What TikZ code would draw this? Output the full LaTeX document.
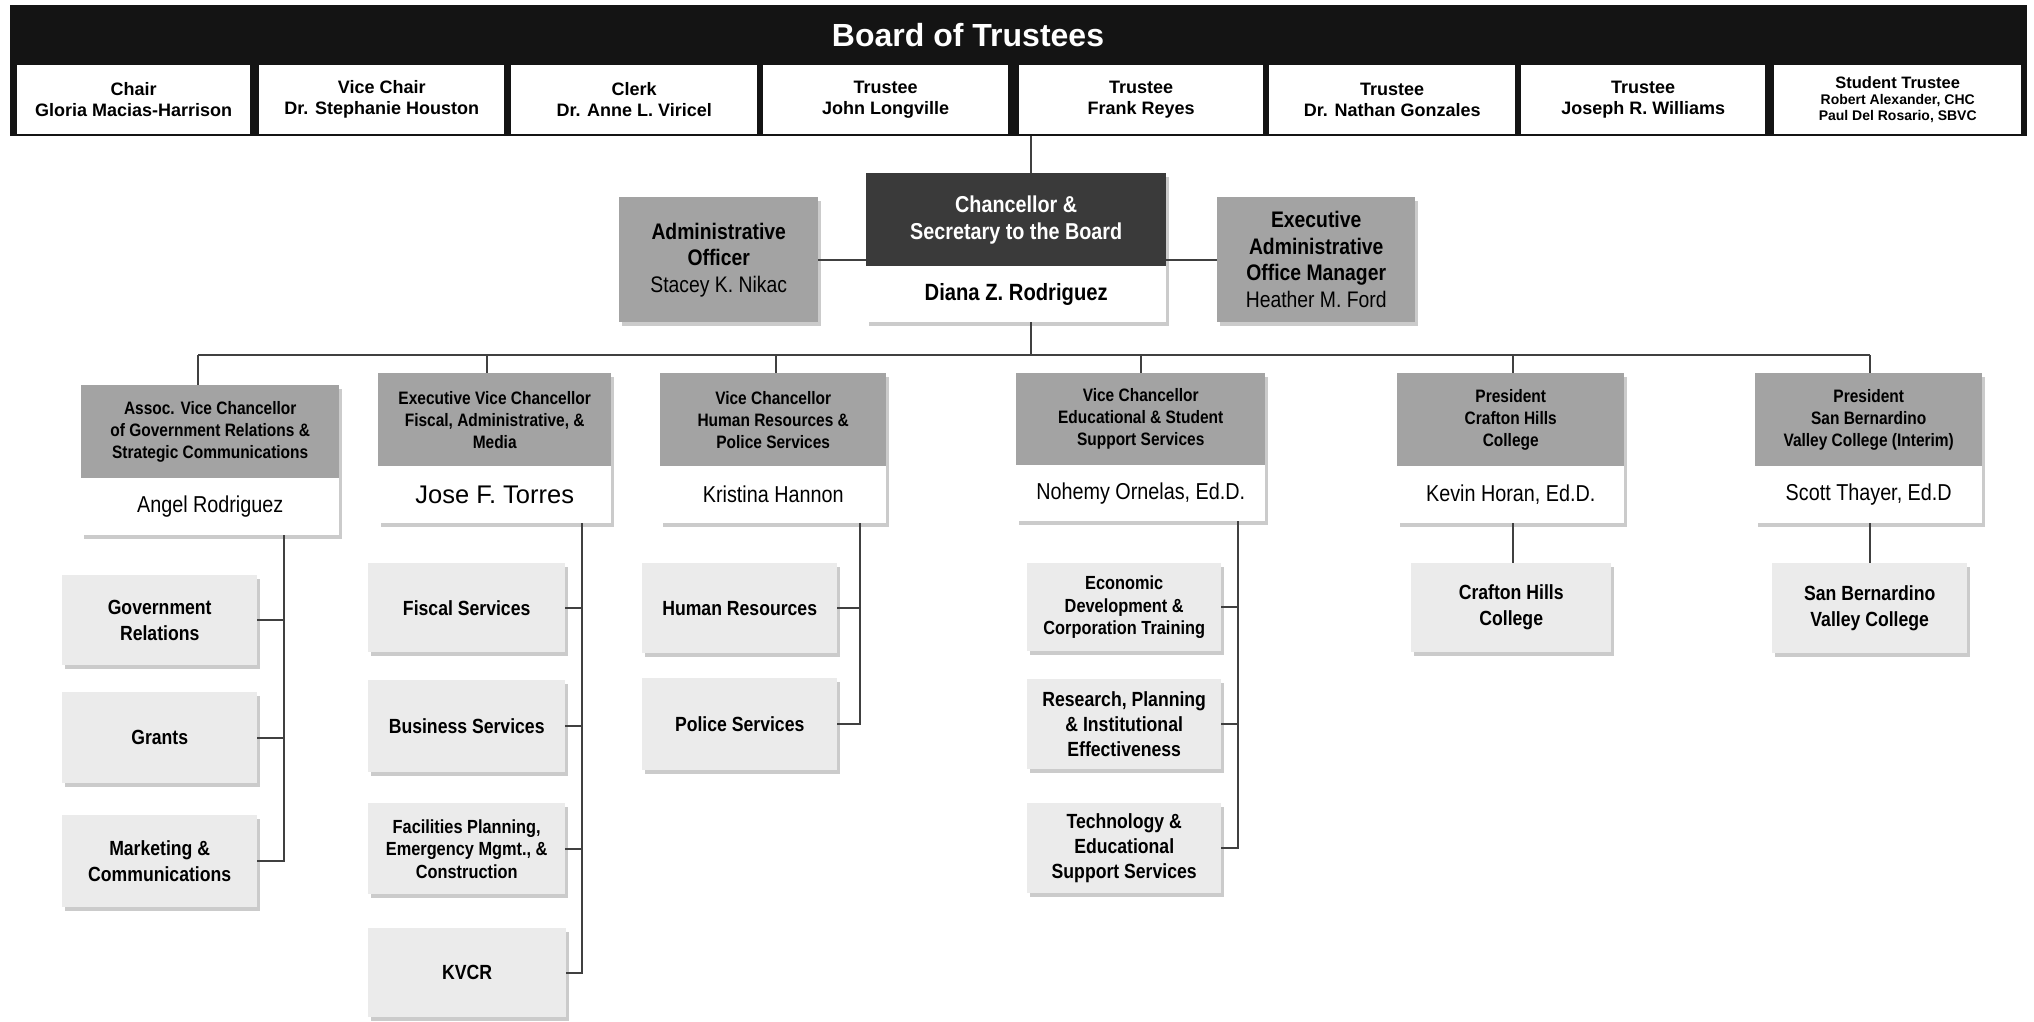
\documentclass[tikz,border=0pt]{standalone}
\usepackage{fontspec}
\setmainfont{Liberation Sans}
\newfontfamily\nar{Liberation Sans}[FakeStretch=0.86]
\usetikzlibrary{shadows}
\definecolor{hdrgray}{HTML}{A3A3A3}
\definecolor{subgray}{HTML}{EBEBEB}
\definecolor{chdark}{HTML}{3A3A3A}
\definecolor{bannerblk}{HTML}{141414}
\tikzset{
  base/.style={inner sep=0pt, align=center, text=black},
  shad/.style={drop shadow={shadow xshift=3pt, shadow yshift=-4pt, fill=black!40}},
  bannerbox/.style={base, fill=bannerblk},
  trbox/.style={base, fill=white, font=\bfseries\fontsize{18}{21}\selectfont},
  stbox/.style={base, fill=white, font=\bfseries\fontsize{14}{16}\selectfont},
  chhdr/.style={base, fill=chdark, text=white, shad, font=\nar\bfseries\fontsize{23}{27}\selectfont},
  chname/.style={base, fill=white, shad, font=\nar\bfseries\fontsize{23.5}{27}\selectfont},
  aidebox/.style={base, fill=hdrgray, shad, font=\nar\bfseries\fontsize{22.5}{26.5}\selectfont},
  hdr/.style={base, fill=hdrgray, shad, font=\nar\bfseries\fontsize{18}{22}\selectfont},
  nm/.style={base, fill=white, shad, font=\nar\fontsize{23}{27}\selectfont},
  sub/.style={base, fill=subgray, shad, font=\nar\bfseries\fontsize{20.5}{26}\selectfont},
  subsm/.style={sub, font=\nar\bfseries\fontsize{19}{22.5}\selectfont},
  submd/.style={sub, font=\nar\bfseries\fontsize{20.5}{25}\selectfont},
  conn/.style={draw=black!75, line width=1.6pt},
}
\newcommand\bx[7]{\node[#2, anchor=north west, minimum width={(#5)-(#3)}, minimum height={(#6)-(#4)}] (#1) at (#3,#4) {#7};}
\begin{document}
\begin{tikzpicture}[x=1pt, y=-1pt]
\useasboundingbox[fill=white] (0,0) rectangle (2034,1021);
% Board banner
\bx{banner}{bannerbox}{10}{5}{2027}{136}{}
\node[base, text=white, font=\bfseries\fontsize{32}{36}\selectfont] (title) at (968,35) {Board of Trustees};
\bx{t1}{trbox}{17}{65}{250}{134}{Chair\\Gloria Macias-Harrison}
\bx{t2}{trbox}{259}{65}{504}{134}{Vice Chair\\Dr. Stephanie Houston}
\bx{t3}{trbox}{511}{65}{757}{134}{Clerk\\Dr. Anne L. Viricel}
\bx{t4}{trbox}{763}{65}{1008}{134}{Trustee\\John Longville}
\bx{t5}{trbox}{1019}{65}{1263}{134}{Trustee\\Frank Reyes}
\bx{t6}{trbox}{1269}{65}{1515}{134}{Trustee\\Dr. Nathan Gonzales}
\bx{t7}{trbox}{1521}{65}{1765}{134}{Trustee\\Joseph R. Williams}
\bx{t8}{stbox}{1774}{65}{2021}{134}{{\fontsize{16.5}{16}\selectfont Student Trustee}\\Robert Alexander, CHC\\Paul Del Rosario, SBVC}
% Chancellor row
\bx{adm}{aidebox}{619}{197}{818}{322}{Administrative\\Officer\\{\mdseries Stacey K. Nikac}}
\bx{exa}{aidebox}{1217}{197}{1415}{322}{Executive\\Administrative\\Office Manager\\{\mdseries Heather M. Ford}}
\bx{chh}{chhdr}{866}{173}{1166}{266}{Chancellor \&\\Secretary to the Board}
\bx{chn}{chname}{866}{266}{1166}{322}{Diana Z. Rodriguez}
% Second level
\bx{avh}{hdr}{81}{385}{339}{478}{Assoc. Vice Chancellor\\of Government Relations \&\\Strategic Communications}
\bx{avn}{nm}{81}{478}{339}{535}{Angel Rodriguez}
\bx{evh}{hdr}{378}{373}{611}{466}{Executive Vice Chancellor\\Fiscal, Administrative, \&\\Media}
\bx{evn}{nm, font=\fontsize{25.5}{30}\selectfont}{378}{466}{611}{523}{Jose F. Torres}
\bx{hrh}{hdr}{660}{373}{886}{466}{Vice Chancellor\\Human Resources \&\\Police Services}
\bx{hrn}{nm}{660}{466}{886}{523}{Kristina Hannon}
\bx{edh}{hdr}{1016}{373}{1265}{465}{Vice Chancellor\\Educational \& Student\\Support Services}
\bx{edn}{nm}{1016}{465}{1265}{521}{Nohemy Ornelas, Ed.D.}
\bx{chch}{hdr}{1397}{373}{1624}{466}{President\\Crafton Hills\\College}
\bx{chcn}{nm}{1397}{466}{1624}{523}{Kevin Horan, Ed.D.}
\bx{sbh}{hdr}{1755}{373}{1982}{466}{President\\San Bernardino\\Valley College (Interim)}
\bx{sbn}{nm}{1755}{466}{1982}{523}{Scott Thayer, Ed.D}
% Third level
\bx{gov}{sub}{62}{575}{257}{665}{Government\\Relations}
\bx{gra}{sub}{62}{692}{257}{783}{Grants}
\bx{mkt}{sub}{62}{815}{257}{907}{Marketing \&\\Communications}
\bx{fis}{sub}{368}{563}{565}{652}{Fiscal Services}
\bx{bus}{sub}{368}{680}{565}{772}{Business Services}
\bx{fac}{subsm}{368}{803}{565}{894}{Facilities Planning,\\Emergency Mgmt., \&\\Construction}
\bx{kvcr}{sub}{368}{928}{566}{1017}{KVCR}
\bx{hr}{sub}{642}{563}{837}{653}{Human Resources}
\bx{pol}{sub}{642}{678}{837}{770}{Police Services}
\bx{eco}{subsm}{1027}{563}{1221}{651}{Economic\\Development \&\\Corporation Training}
\bx{res}{submd}{1027}{679}{1221}{769}{Research, Planning\\\& Institutional\\Effectiveness}
\bx{tec}{submd}{1027}{803}{1221}{893}{Technology \&\\Educational\\Support Services}
\bx{chc}{sub}{1411}{563}{1611}{652}{Crafton Hills\\College}
\bx{sbv}{sub}{1772}{563}{1967}{653}{San Bernardino\\Valley College}
% Connectors
\coordinate (cx) at (1031,0);
\coordinate (busy) at (0,355);
\coordinate (d1) at (198,0);
\coordinate (d2) at (487,0);
\coordinate (d3) at (776,0);
\coordinate (d4) at (1141,0);
\coordinate (d5) at (1513,0);
\coordinate (d6) at (1870,0);
\coordinate (s1) at (284,0);
\coordinate (s2) at (582,0);
\coordinate (s3) at (860,0);
\coordinate (s4) at (1238,0);
\draw[conn] (banner.south -| cx) -- (chh.north -| cx);
\draw[conn] (adm.east) -- (adm.east -| chh.west);
\draw[conn] (exa.west) -- (exa.west -| chh.east);
\draw[conn] (chn.south -| cx) -- (busy -| cx);
\draw[conn] (busy -| d1) -- (busy -| d6);
\draw[conn] (busy -| d1) -- (avh.north -| d1);
\draw[conn] (busy -| d2) -- (evh.north -| d2);
\draw[conn] (busy -| d3) -- (hrh.north -| d3);
\draw[conn] (busy -| d4) -- (edh.north -| d4);
\draw[conn] (busy -| d5) -- (chch.north -| d5);
\draw[conn] (busy -| d6) -- (sbh.north -| d6);
% spines
\draw[conn] (avn.south -| s1) |- (mkt.east);
\draw[conn] (s1 |- gov.east) -- (gov.east);
\draw[conn] (s1 |- gra.east) -- (gra.east);
\draw[conn] (evn.south -| s2) |- (kvcr.east);
\draw[conn] (s2 |- fis.east) -- (fis.east);
\draw[conn] (s2 |- bus.east) -- (bus.east);
\draw[conn] (s2 |- fac.east) -- (fac.east);
\draw[conn] (hrn.south -| s3) |- (pol.east);
\draw[conn] (s3 |- hr.east) -- (hr.east);
\draw[conn] (edn.south -| s4) |- (tec.east);
\draw[conn] (s4 |- eco.east) -- (eco.east);
\draw[conn] (s4 |- res.east) -- (res.east);
\draw[conn] (chcn.south -| d5) -- (chc.north -| d5);
\draw[conn] (sbn.south -| d6) -- (sbv.north -| d6);
\end{tikzpicture}
\end{document}
